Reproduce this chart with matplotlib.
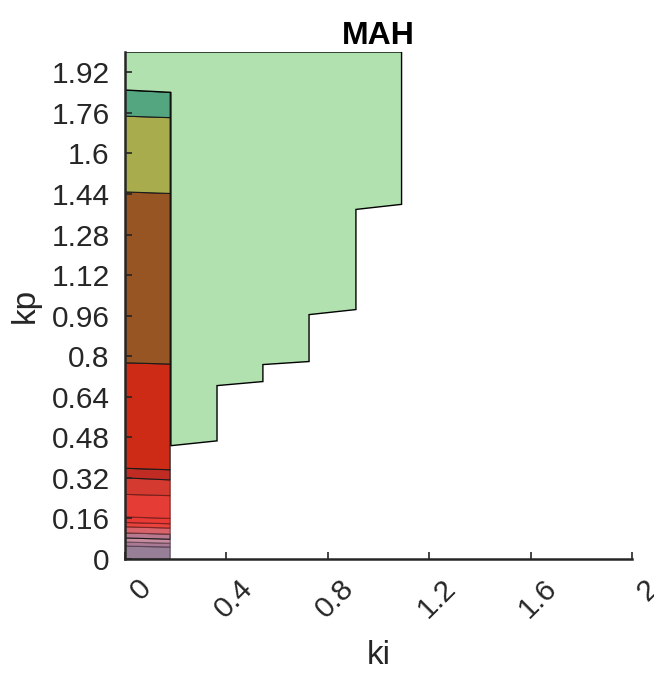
import numpy as np
import matplotlib.pyplot as plt
import matplotlib.transforms as mtransforms
import matplotlib.colors as mcolors

plt.rcParams['font.family'] = ['Liberation Sans', 'DejaVu Sans']

# Left column (ki from 0 to col_ki): stacked bands, top of each band at left / right side
col_ki = 0.178
band_top_left = [0.051, 0.067, 0.083, 0.103, 0.127, 0.144, 0.166, 0.255, 0.320, 0.358, 0.774, 1.448, 1.747, 1.850]
band_top_right = [0.047, 0.062, 0.078, 0.098, 0.122, 0.139, 0.160, 0.250, 0.312, 0.352, 0.769, 1.442, 1.741, 1.841]
band_colors = ['#977f98', '#a87a95', '#c88ca0', '#b87890', '#d9636a', '#e8433e',
               '#ea3a36', '#e63c36', '#d53a30', '#c02c24', '#cd2b16', '#965523',
               '#a8ac4c', '#54a680']

# Stable region (green) staircase boundary
step_ki = [0.181, 0.363, 0.544, 0.726, 0.911, 1.091]
step_kp_left = [0.447, 0.684, 0.767, 0.964, 1.379]
step_kp_right = [0.466, 0.700, 0.779, 0.984, 1.399]
kp_max = 2.0
green = '#b0e1ae'

fig = plt.figure(figsize=(6.54, 6.75), dpi=100)
ax = fig.add_axes([125 / 654, 1 - 559 / 675, 507 / 654, 507 / 675])

# bands in the left column
prev_l, prev_r = 0.0, 0.0
for i, (tl, tr, c) in enumerate(zip(band_top_left, band_top_right, band_colors)):
    rgb = np.array(mcolors.to_rgb(c))
    edge = '#1a1a1a' if i >= 9 or i == 3 else tuple(rgb * 0.55)
    ax.fill([0, col_ki, col_ki, 0], [prev_l, prev_r, tr, tl], facecolor=c,
            edgecolor=edge, linewidth=0.8)
    prev_l, prev_r = tl, tr

# green region polygon
xs = [0, 0, step_ki[-1], step_ki[-1]]
ys = [band_top_left[-1], kp_max, kp_max, step_kp_right[-1]]
for i in range(len(step_kp_left) - 1, -1, -1):
    xs += [step_ki[i], step_ki[i]]
    ys += [step_kp_left[i], step_kp_right[i - 1] if i > 0 else step_kp_left[i]]
xs[-1] = step_ki[0]
ys[-1] = step_kp_left[0]
xs += [step_ki[0], col_ki]
ys += [band_top_right[-1], band_top_right[-1]]
ax.fill(xs, ys, facecolor=green, edgecolor='black', linewidth=1.0)

ax.set_xlim(0, 2)
ax.set_ylim(0, 2)
ax.spines['top'].set_visible(False)
ax.spines['right'].set_visible(False)
for s in ['left', 'bottom']:
    ax.spines[s].set_linewidth(1.8)
    ax.spines[s].set_color('#262626')
ax.set_axisbelow(False)

yticks = np.round(np.arange(0, 1.93, 0.16), 2)
ax.set_yticks(yticks)
ax.set_yticklabels([f'{v:g}' for v in yticks])
xticks = [0, 0.4, 0.8, 1.2, 1.6, 2]
ax.set_xticks(xticks)
ax.set_xticklabels([f'{v:g}' for v in xticks])
ax.tick_params(direction='in', length=5, width=1.2, color='#262626',
               labelsize=21.5, labelcolor='#262626', pad=11)
ax.tick_params(axis='x', pad=8)
offset = mtransforms.ScaledTranslation(22 / 100, -14 / 100, fig.dpi_scale_trans)
for lab in ax.get_xticklabels():
    lab.set_rotation(45)
    lab.set_rotation_mode('anchor')
    lab.set_ha('right')
    lab.set_va('center')
    lab.set_transform(lab.get_transform() + offset)

ax.set_xlabel('ki', fontsize=24, color='#262626', labelpad=12)
ax.set_ylabel('kp', fontsize=24, color='#262626', labelpad=8)
ax.set_title('MAH', fontsize=23, fontweight='bold', pad=6)

fig.savefig('out.png', dpi=100)
